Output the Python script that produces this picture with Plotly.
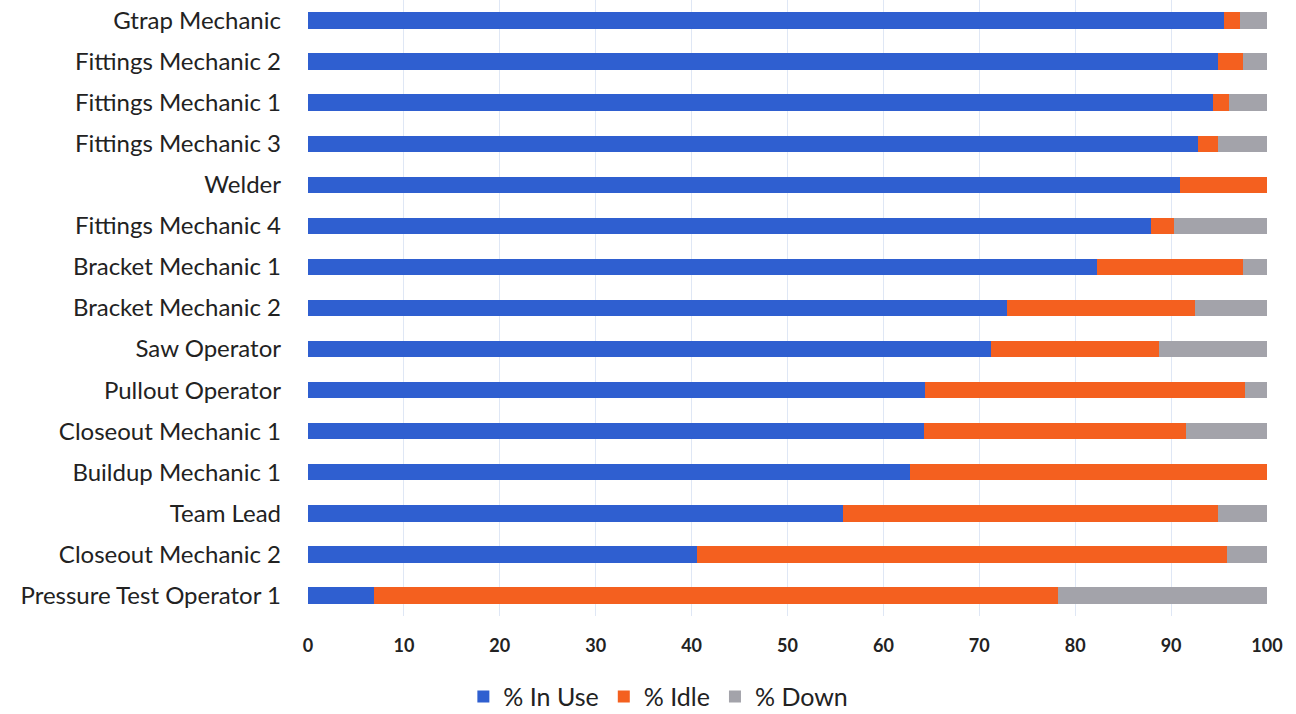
import plotly.graph_objects as go

# Roles, listed bottom to top as drawn on the category axis
roles = [
    "Pressure Test Operator 1",
    "Closeout Mechanic 2",
    "Team Lead",
    "Buildup Mechanic 1",
    "Closeout Mechanic 1",
    "Pullout Operator",
    "Saw Operator",
    "Bracket Mechanic 2",
    "Bracket Mechanic 1",
    "Fittings Mechanic 4",
    "Welder",
    "Fittings Mechanic 3",
    "Fittings Mechanic 1",
    "Fittings Mechanic 2",
    "Gtrap Mechanic",
]

pct_in_use = [6.9, 40.6, 55.8, 62.8, 64.2, 64.3, 71.2, 72.9, 82.3, 87.9, 90.9, 92.8, 94.4, 94.9, 95.5]
pct_idle = [71.3, 55.2, 39.1, 37.2, 27.4, 33.4, 17.5, 19.6, 15.2, 2.4, 9.1, 2.1, 1.6, 2.6, 1.7]
pct_down = [21.8, 4.2, 5.1, 0.0, 8.4, 2.3, 11.3, 7.5, 2.5, 9.7, 0.0, 5.1, 4.0, 2.5, 2.8]

x_ticks = [0, 10, 20, 30, 40, 50, 60, 70, 80, 90, 100]

series = [
    ("% In Use", pct_in_use, "#2f5fd0"),
    ("% Idle", pct_idle, "#f4601f"),
    ("% Down", pct_down, "#a3a3aa"),
]

fig = go.Figure()
for name, vals, color in series:
    fig.add_trace(go.Bar(
        y=roles, x=vals, name=name, orientation="h",
        marker=dict(color=color, line=dict(width=0)),
    ))

fig.update_layout(
    barmode="stack",
    bargap=0.6,
    width=1296, height=714,
    margin=dict(l=308, r=29, t=0, b=98),
    plot_bgcolor="white",
    paper_bgcolor="white",
    font=dict(family="Lato, 'Open Sans', sans-serif", color="#222222"),
    xaxis=dict(
        range=[0, 100],
        tickvals=x_ticks,
        ticktext=[str(t) for t in x_ticks],
        showgrid=True, gridcolor="#dfe7f5", gridwidth=1,
        zeroline=False, showline=False,
        tickfont=dict(size=18, family="Lato", weight="bold", color="#222222"),
        ticks="", ticklabelstandoff=17,
    ),
    yaxis=dict(
        showgrid=False, zeroline=False, showline=False,
        tickfont=dict(size=24, family="Lato", color="#222222"),
        ticks="", ticklabelstandoff=26,
        categoryorder="array", categoryarray=roles,
    ),
    legend=dict(
        orientation="h",
        xref="container", yref="container",
        x=0.508, y=0.024, xanchor="center", yanchor="middle",
        font=dict(size=25, family="Lato", color="#222222"),
        traceorder="normal",
        itemwidth=30,
    ),
)

fig.write_html("out.html")
